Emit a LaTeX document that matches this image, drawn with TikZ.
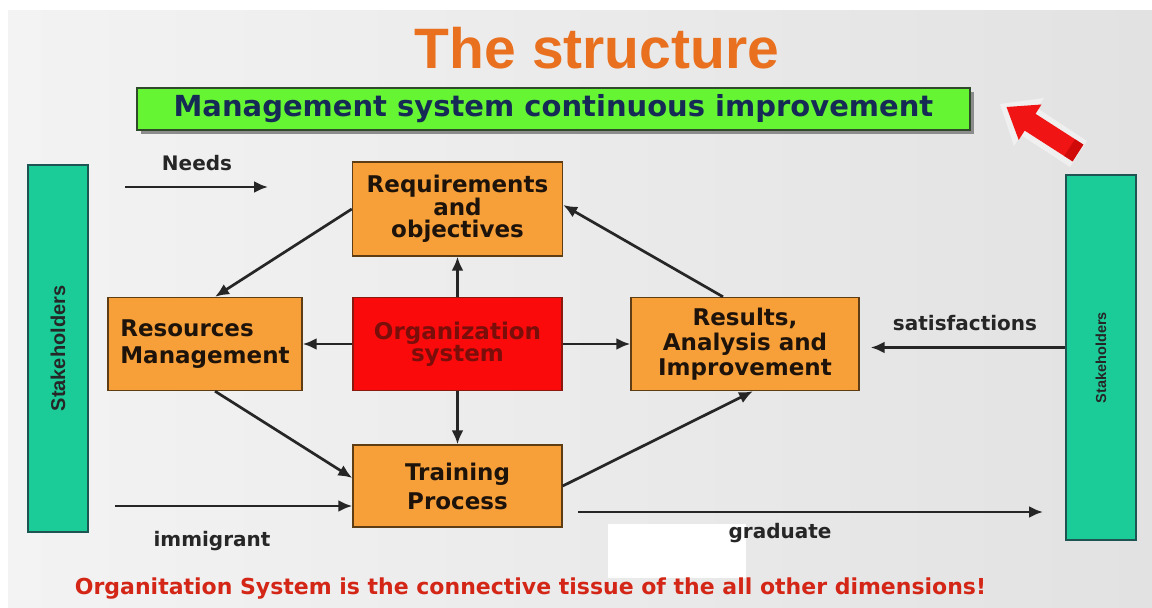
\documentclass[tikz,border=0pt]{standalone}
\usepackage{fontspec}
\usetikzlibrary{arrows.meta,calc}
\newfontfamily\dejavu{DejaVu Sans}
\newfontfamily\arialfont{Liberation Sans}
\definecolor{slidebgA}{HTML}{F3F3F3}
\definecolor{slidebgB}{HTML}{E2E2E2}
\definecolor{boxorange}{HTML}{F7A03A}
\definecolor{boxedge}{HTML}{5E3D14}
\definecolor{orgred}{HTML}{FA0A0A}
\definecolor{orgedge}{HTML}{8A1A10}
\definecolor{orgtext}{HTML}{7A0E0A}
\definecolor{bargreen}{HTML}{66F533}
\definecolor{baredge}{HTML}{2E4A2A}
\definecolor{navytext}{HTML}{152B55}
\definecolor{teal}{HTML}{1BCB98}
\definecolor{tealedge}{HTML}{1E5552}
\definecolor{titleorange}{HTML}{E8701E}
\definecolor{footred}{HTML}{D42616}
\definecolor{labelgray}{HTML}{262626}
\definecolor{bigarrow}{HTML}{F01414}
\begin{document}
\begin{tikzpicture}[x=1pt,y=-1pt,
  procbox/.style={draw=boxedge, line width=1.4pt, fill=boxorange, inner sep=0pt,
    align=center, text=black!85!brown,
    font=\dejavu\bfseries\fontsize{23}{23}\selectfont},
  stakebar/.style={draw=tealedge, line width=1.6pt, fill=teal, inner sep=0pt},
  flow/.style={line width=2.7pt, black!85, -{Latex[length=14pt,width=12pt]}},
  flowlabel/.style={text=labelgray, inner sep=0pt, font=\dejavu\bfseries\fontsize{20}{20}\selectfont}
]
\useasboundingbox (0,0) rectangle (1152,608);
% slide background
\fill[white] (0,0) rectangle (1152,608);
\shade[left color=slidebgA, right color=slidebgB] (8,10) rectangle (1152,608);
\fill[white] (608,524) rectangle (746,578);

% title
\node (title) [text=titleorange, font=\arialfont\bfseries\fontsize{57}{57}\selectfont] at (597,48) {The structure};

% continuous improvement banner
\fill[black!45] (141,92) rectangle (974,134);
\node (cip) [draw=baredge, line width=1.4pt, fill=bargreen, minimum width=833pt, minimum height=42pt,
  inner sep=0pt, text=navytext, font=\dejavu\bfseries\fontsize{29}{29}\selectfont]
  at (553.5,109) {Management system continuous improvement};

% red arrow pointing to the banner
\fill[white, opacity=0.45] (1087,141) -- (1037,108) -- (1044,98) -- (1000,104) -- (1014,146) -- (1021,135) -- (1070,167) -- cycle;
\fill[bigarrow] (1083.4,144.6) -- (1035.5,113.8) -- (1041.5,104.5) -- (1006.5,107) -- (1018.7,139.9) -- (1024.7,130.6) -- (1072.6,161.4) -- cycle;
\fill[red!70!black, opacity=0.5] (1083.4,144.6) -- (1072.6,161.4) -- (1064.2,156.0) -- (1075.0,139.2) -- cycle;

% stakeholders on both sides
\node (shL) [stakebar, minimum width=60pt, minimum height=367pt] at (58,348.5) {};
\node[rotate=90, font=\arialfont\bfseries\fontsize{20}{20}\selectfont, text=black!85] at (shL.center) {Stakeholders};
\node (shR) [stakebar, minimum width=70pt, minimum height=365pt] at (1101,357.5) {};
\node[rotate=90, font=\arialfont\bfseries\fontsize{14.5}{14.5}\selectfont, text=black!85] at (shR.center) {Stakeholders};

% process boxes
\node (req) [procbox, minimum width=210pt, minimum height=94pt, font=\dejavu\bfseries\fontsize{23}{22.5}\selectfont]
  at (457.5,209) {Requirements\\and\\objectives};
\node (res) [procbox, minimum width=194pt, minimum height=93pt, align=left, font=\dejavu\bfseries\fontsize{23}{27}\selectfont]
  at (205,344) {Resources\\Management};
\node (org) [procbox, draw=orgedge, fill=orgred, text=orgtext, minimum width=209pt, minimum height=93pt,
  font=\dejavu\bfseries\fontsize{23}{22}\selectfont]
  at (457.5,344) {Organization\\system};
\node (rai) [procbox, minimum width=228pt, minimum height=93pt, font=\dejavu\bfseries\fontsize{23}{25}\selectfont]
  at (745,344) {Results,\\Analysis and\\Improvement};
\node (trn) [procbox, minimum width=209pt, minimum height=82pt, font=\dejavu\bfseries\fontsize{23}{29}\selectfont]
  at (457.5,486) {Training\\Process};

% connectors between the boxes
\draw[flow] (req.west) -- ([xshift=10pt]res.north);
\draw[flow] (org.north) -- (req.south);
\draw[flow] (org.west) -- (res.east);
\draw[flow] (org.east) -- (rai.west);
\draw[flow] (org.south) -- (trn.north);
\draw[flow] ([xshift=10pt]res.south) -- ([yshift=8pt]trn.west);
\draw[flow] (trn.east) -- ([xshift=8pt]rai.south);
\draw[flow] ([xshift=-22pt]rai.north) -- ([yshift=4pt]req.east);
\draw[flow] ([yshift=10pt]shR.west) -- ([xshift=11pt,yshift=-3.5pt]rai.east);

% flows to and from the stakeholders
\coordinate (needsA) at (125,187);
\coordinate (needsB) at (268,187);
\draw[flow] (needsA) -- (needsB);
\node[flowlabel] at (197,163) {Needs};

\coordinate (immA) at (115,506);
\draw[flow] (immA) -- ([yshift=-20pt]trn.west);
\node[flowlabel] at (212,541) {immigrant};

\coordinate (gradA) at (578,512);
\coordinate (gradB) at (1043,512);
\draw[flow] (gradA) -- (gradB);
\node[flowlabel] at (780,533) {graduate};

\node[flowlabel] at (965,323) {satisfactions};

% closing statement
\node (foot) [text=footred, font=\dejavu\bfseries\fontsize{22}{22}\selectfont] at (530.5,589) {Organitation System is the connective tissue of the all other dimensions!};
\end{tikzpicture}
\end{document}
